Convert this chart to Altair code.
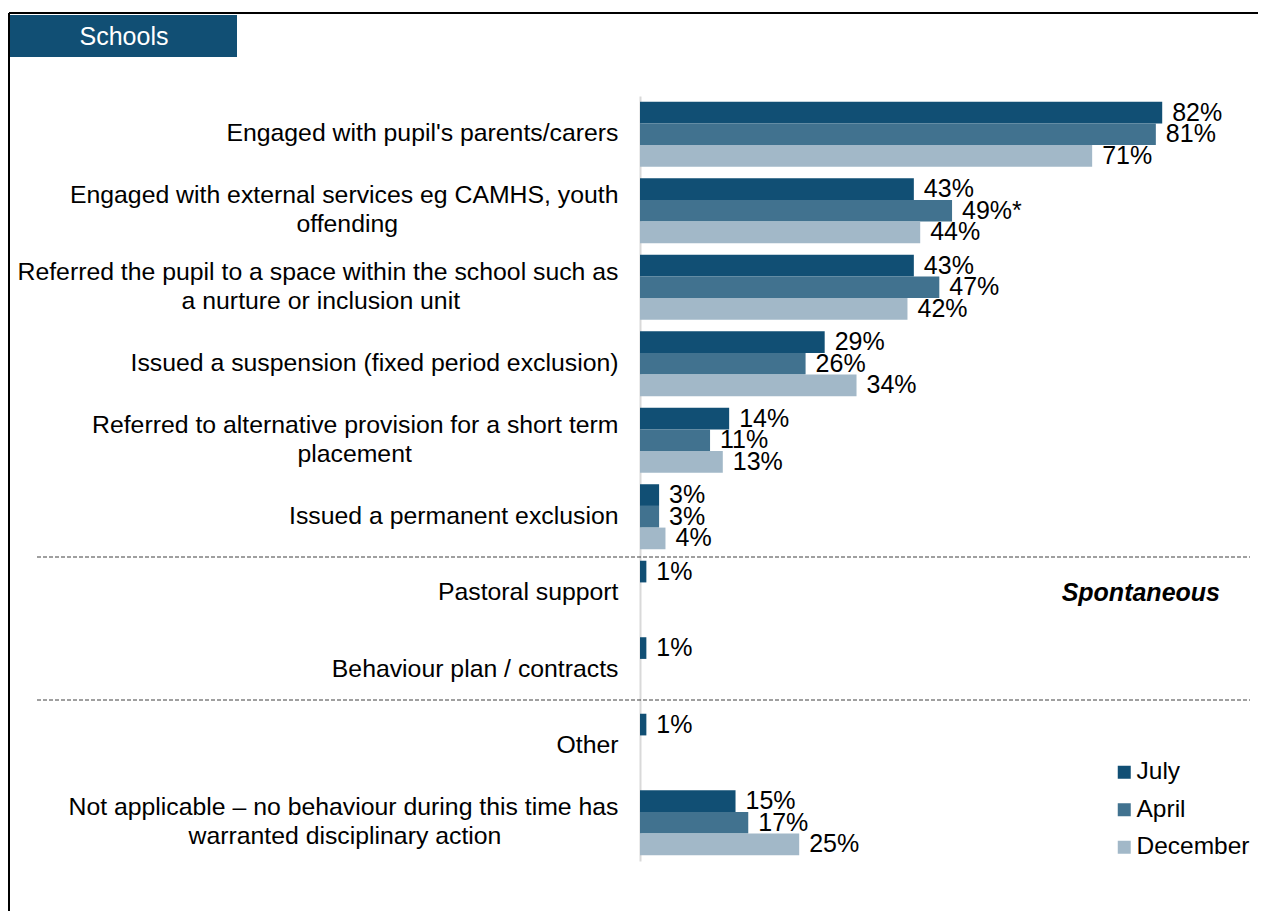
import altair as alt
import pandas as pd

categories = [
    "Engaged with pupil's parents/carers",
    "Engaged with external services eg CAMHS, youth\noffending",
    "Referred the pupil to a space within the school such as\na nurture or inclusion unit",
    "Issued a suspension (fixed period exclusion)",
    "Referred to alternative provision for a short term\nplacement",
    "Issued a permanent exclusion",
    "Pastoral support",
    "Behaviour plan / contracts",
    "Other",
    "Not applicable \u2013 no behaviour during this time has\nwarranted disciplinary action",
]
series = ["July", "April", "December"]
july = [82, 43, 43, 29, 14, 3, 1, 1, 1, 15]
april = [81, 49, 47, 26, 11, 3, None, None, None, 17]
december = [71, 44, 42, 34, 13, 4, None, None, None, 25]
significant = [(categories[1], "April")]
colors = ["#114F74", "#41728F", "#A2B8C8"]

# Arial advance widths (per 1000 em) used to centre the second line of
# two-line category labels under the first line (Excel-style wrapping).
_W = {" ": 278, "a": 556, "b": 556, "c": 500, "d": 556, "e": 556, "f": 278, "g": 556,
      "h": 556, "i": 222, "j": 222, "k": 500, "l": 222, "m": 833, "n": 556, "o": 556,
      "p": 556, "q": 556, "r": 333, "s": 500, "t": 278, "u": 556, "v": 500, "w": 722,
      "x": 500, "y": 500, "z": 500, "A": 667, "B": 667, "C": 722, "E": 667, "H": 722,
      "I": 278, "M": 833, "N": 722, "O": 778, "P": 667, "R": 722, "S": 667,
      ",": 278, "'": 191, "/": 278, "(": 333, ")": 333, "\u2013": 556, "-": 333}


def _width(s):
    return sum(_W.get(ch, 556) for ch in s)


def centre_lines(label):
    lines = label.split("\n")
    if len(lines) == 1:
        return label
    wmax = max(_width(l) for l in lines)
    out = []
    for l in lines:
        n = round((wmax - _width(l)) / 2 / 278)
        # trailing no-break spaces closed by a word joiner so they are kept
        out.append(l + "\u00a0" * n + ("\u2060" if n else ""))
    return "\n".join(out)


display = {c: centre_lines(c) for c in categories}

rows = []
for s, vals in zip(series, [july, april, december]):
    for c, v in zip(categories, vals):
        if v is None:
            continue
        lab = f"{v}%" + ("*" if (c, s) in significant else "")
        rows.append({"cat": display[c], "series": s, "value": v, "label": lab})
df = pd.DataFrame(rows)
cat_order = [display[c] for c in categories]

FONT = "Liberation Sans"
FS = 25
W, H = 605, 765

y_enc = alt.Y("cat:N", sort=cat_order,
              scale=alt.Scale(domain=cat_order, paddingInner=0.15, paddingOuter=0.075),
              axis=alt.Axis(title=None, labelExpr="split(datum.label, '\\n')",
                            labelFontSize=24.8, labelFont=FONT, labelColor="#000000",
                            labelLineHeight=29, labelLimit=0, labelPadding=22,
                            labelOffset={"expr": "indexof(datum.value, '\\n') >= 0 ? -14.5 : 0"},
                            ticks=False, domainColor="#D9D9D9", domainWidth=2,
                            labelAlign="right", labelBaseline="middle"))
x_enc = alt.X("value:Q", scale=alt.Scale(domain=[0, 95], nice=False), axis=None)
yoff = alt.YOffset("series:N", sort=series,
                   scale=alt.Scale(domain=series, paddingInner=0, paddingOuter=0))

base = alt.Chart(df)
bars = base.mark_bar().encode(
    y=y_enc, x=x_enc, yOffset=yoff,
    color=alt.Color("series:N", sort=series,
                    scale=alt.Scale(domain=series, range=colors),
                    legend=alt.Legend(title=None, orient="none", legendX=472, legendY=664,
                                      symbolType="square", symbolSize=169, symbolStrokeWidth=0,
                                      labelFontSize=24.5, labelFont=FONT, labelColor="#000000",
                                      rowPadding=12.5, labelOffset=0, padding=0)),
)
labels = base.mark_text(align="left", baseline="middle", dx=10, fontSize=FS, font=FONT,
                        color="#000000").encode(
    y=alt.Y("cat:N", sort=cat_order), x="value:Q", yOffset=yoff, text="label:N")

spont = alt.Chart(pd.DataFrame({"cat": [display["Pastoral support"]], "t": ["Spontaneous"]})).mark_text(
    align="right", baseline="middle", fontSize=FS, font=FONT, fontStyle="italic",
    fontWeight="bold", color="#000000").encode(
    y=alt.Y("cat:N", sort=cat_order), x=alt.value(580), text="t:N")

sep = alt.Chart(pd.DataFrame({"yy": [461, 604]})).mark_rule(
    color="#404040", strokeDash=[4, 2], strokeWidth=1).encode(
    y=alt.Y("yy:Q", scale=None), x=alt.value(-603), x2=alt.value(610))

one = pd.DataFrame({"a": [0]})
frame_top = alt.Chart(one).mark_rule(color="#000000", strokeWidth=2).encode(
    x=alt.value(-631), x2=alt.value(618), y=alt.value(-83))
frame_left = alt.Chart(one).mark_rule(color="#000000", strokeWidth=2).encode(
    x=alt.value(-631), y=alt.value(-83), y2=alt.value(830))
tab = alt.Chart(one).mark_rect(color="#114F74").encode(
    x=alt.value(-630), x2=alt.value(-403), y=alt.value(-81), y2=alt.value(-39))
tab_text = alt.Chart(pd.DataFrame({"t": ["Schools"]})).mark_text(
    fontSize=FS, font=FONT, color="#FFFFFF", align="center", baseline="middle").encode(
    x=alt.value(-516), y=alt.value(-59), text="t:N")

chart = alt.layer(frame_top, frame_left, tab, tab_text, sep, bars, labels, spont).properties(
    width=W, height=H,
    autosize=alt.AutoSizeParams(type="none"),
    padding={"left": 632, "top": 88, "right": 13, "bottom": 50},
).configure(font=FONT).configure_view(strokeWidth=0, stroke="transparent")

chart.save("out.html", embed_options={"renderer": "svg", "actions": False})
